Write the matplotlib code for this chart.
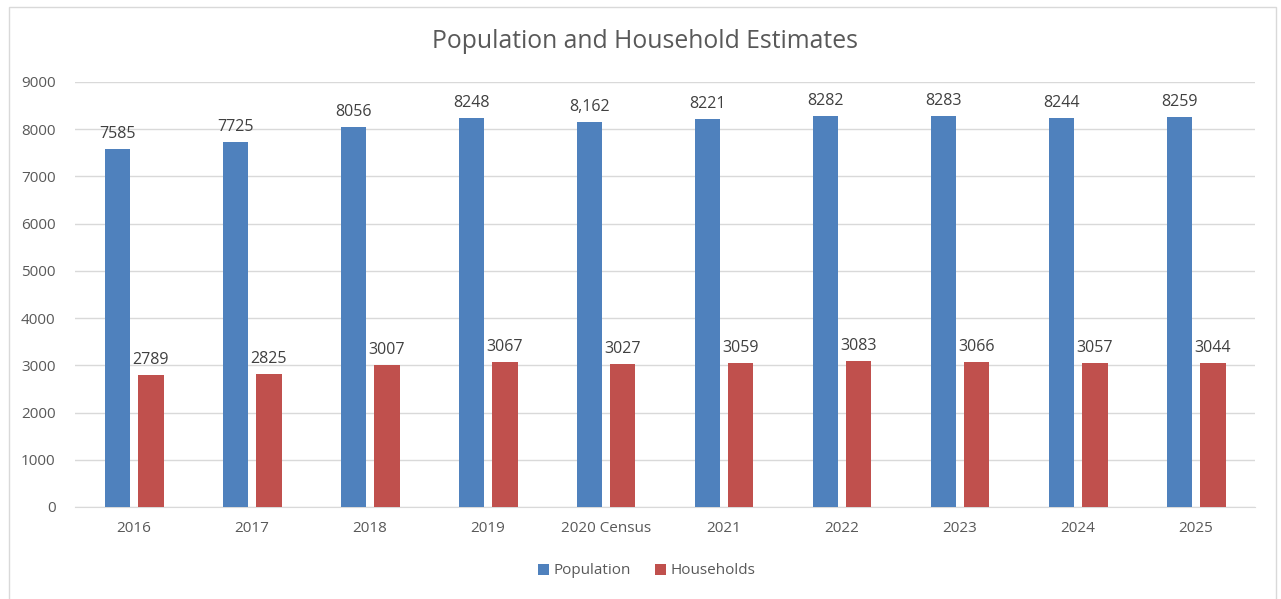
import numpy as np
import matplotlib
matplotlib.use("Agg")
import matplotlib.pyplot as plt
from matplotlib.patches import Rectangle

categories = ["2016", "2017", "2018", "2019", "2020 Census", "2021", "2022", "2023", "2024", "2025"]
population = [7585, 7725, 8056, 8248, 8162, 8221, 8282, 8283, 8244, 8259]
households = [2789, 2825, 3007, 3067, 3027, 3059, 3083, 3066, 3057, 3044]
pop_labels = ["7585", "7725", "8056", "8248", "8,162", "8221", "8282", "8283", "8244", "8259"]
hh_labels = [str(v) for v in households]

plt.rcParams['font.family'] = ['Open Sans', 'DejaVu Sans']
text_col = '#595959'

fig = plt.figure(figsize=(12.81, 5.99), dpi=100)
fig.patches.append(Rectangle((9/1281, -0.01), 1267/1281, 1 - 7/599 + 0.01,
                             transform=fig.transFigure, fill=False,
                             edgecolor='#D9D9D9', linewidth=1))
ax = fig.add_axes([75/1281, 1 - 507/599, 1180/1281, 425/599])

x = np.arange(len(categories))
w = 0.22
off = 0.14
b1 = ax.bar(x - off, population, w, color='#4F81BD', label='Population', zorder=3)
b2 = ax.bar(x + off, households, w, color='#C0504D', label='Households', zorder=3)

# value labels above each bar
for bars, labs in [(b1, pop_labels), (b2, hh_labels)]:
    for rect, lab in zip(bars, labs):
        ax.annotate(lab, (rect.get_x() + rect.get_width() / 2, rect.get_height()),
                    xytext=(0, 5), textcoords='offset points', ha='center', va='bottom',
                    fontsize=11.5, color='#404040')

ax.set_xlim(-0.5, len(categories) - 0.5)
ax.set_ylim(0, 9000)
ax.set_yticks(range(0, 9001, 1000))
ax.set_xticks(x)
ax.set_xticklabels(categories)
ax.tick_params(axis='both', length=0, labelsize=11, colors=text_col)
ax.tick_params(axis='x', pad=10)
ax.tick_params(axis='y', pad=14)
ax.yaxis.grid(True, color='#D9D9D9', linewidth=1, zorder=0)
for s in ['top', 'right', 'left']:
    ax.spines[s].set_visible(False)
ax.spines['bottom'].set_color('#D9D9D9')

fig.text(645/1281, 1 - 41/599, 'Population and Household Estimates', ha='center', va='center',
         fontsize=17.8, color=text_col)
fig.legend(handles=[b1, b2], loc='center', bbox_to_anchor=(647/1281, 1 - 571/599), ncol=2,
           frameon=False, fontsize=11, labelcolor=text_col, handlelength=0.7, handleheight=0.7,
           columnspacing=1.6, handletextpad=0.3)

fig.savefig('out.png', dpi=100)
